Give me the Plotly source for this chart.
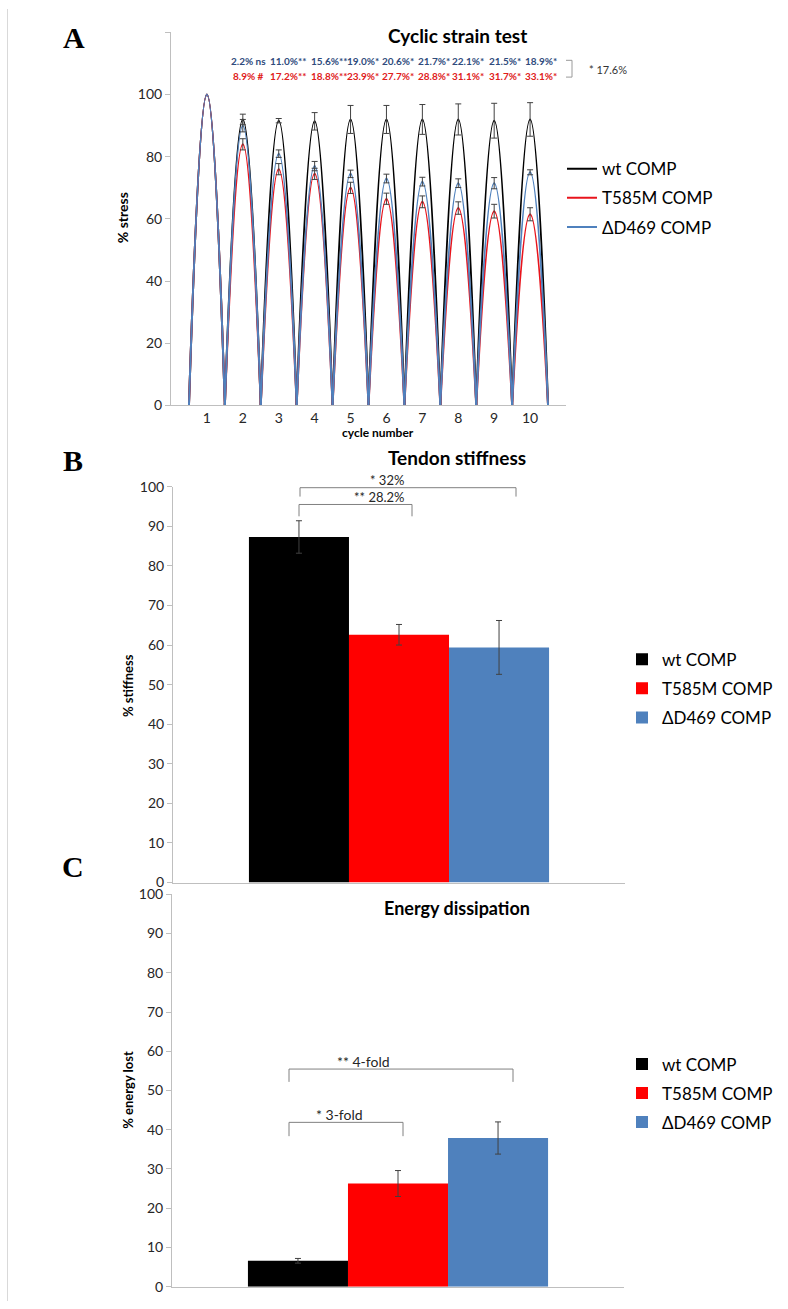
import plotly.graph_objects as go

PAGE_W, PAGE_H = 788, 1309
FW, FH = PAGE_W, PAGE_H
def X(px): return px / FW
def Y(py): return 1 - py / FH

# ---------------- data ----------------
cycles = [1, 2, 3, 4, 5, 6, 7, 8, 9, 10]
series_names = ["wt COMP", "T585M COMP", "\u0394D469 COMP"]
line_colors = ["#000000", "#E8141C", "#4F81BD"]
bar_colors = ["#000000", "#FF0000", "#4F81BD"]

peak_wt = [100, 92, 91.6, 91.4, 92, 92, 92, 92, 91.6, 92]
peak_t585m = [100, 84, 76, 74.5, 70, 66.5, 65.5, 63.5, 62.5, 61.5]
peak_d469 = [100, 90, 81, 77, 74.5, 73, 72, 71.5, 71.5, 75]
err_wt = [0, 1.7, 0.7, 2.8, 4.5, 4.5, 4.8, 5.0, 5.6, 5.4]
err_t585m = [0, 1.8, 1.8, 1.8, 1.8, 1.8, 1.9, 2.0, 2.2, 2.1]
err_d469 = [0, 2.0, 1.2, 1.5, 1.2, 1.4, 1.4, 1.4, 1.8, 0.8]

blue_pct = ["2.2% ns", "11.0%**", "15.6%**", "19.0%*", "20.6%*", "21.7%*", "22.1%*", "21.5%*", "18.9%*"]
red_pct = ["8.9% #", "17.2%**", "18.8%**", "23.9%*", "27.7%*", "28.8%*", "31.1%*", "31.7%*", "33.1%*"]
pct_centers_px = [248, 288, 329, 363, 398, 434, 468, 505, 541]

stiff_vals = [87.3, 62.6, 59.4]
stiff_err = [4.1, 2.6, 6.8]
energy_vals = [6.6, 26.3, 37.9]
energy_err = [0.6, 3.3, 4.1]

fig = go.Figure()

# ---------------- panel A : cyclic curves ----------------
peaks = [peak_wt, peak_t585m, peak_d469]
errs = [err_wt, err_t585m, err_d469]
for i, (name, col, pk) in enumerate(zip(series_names, line_colors, peaks)):
    xs, ys = [], []
    for c, p in zip(cycles, pk):
        xs += [c - 0.5, c, c + 0.5, None]
        ys += [0, p, 0, None]
    fig.add_trace(go.Scatter(x=xs, y=ys, mode="lines", name=name, legendgroup=f"a{i}",
                             line=dict(color=col, width=2, shape="spline", smoothing=1.3),
                             connectgaps=False, xaxis="x", yaxis="y", legend="legend"))
for name, col, pk, er in zip(series_names, line_colors, peaks, errs):
    fig.add_trace(go.Scatter(x=cycles[1:], y=pk[1:], mode="markers", showlegend=False,
                             marker=dict(size=1, color="rgba(0,0,0,0)"),
                             error_y=dict(type="data", array=er[1:], color="#404040",
                                          thickness=1, width=3),
                             xaxis="x", yaxis="y", hoverinfo="skip"))

# ---------------- panel B : stiffness ----------------
for i, (name, col, v, e) in enumerate(zip(series_names, bar_colors, stiff_vals, stiff_err)):
    fig.add_trace(go.Bar(x=["s"], y=[v], name=name, legendgroup=f"b{i}",
                         marker=dict(color=col, line=dict(width=0)),
                         error_y=dict(type="data", array=[e], color="#404040", thickness=1, width=3),
                         xaxis="x2", yaxis="y2", legend="legend2"))

# ---------------- panel C : energy ----------------
for i, (name, col, v, e) in enumerate(zip(series_names, bar_colors, energy_vals, energy_err)):
    fig.add_trace(go.Bar(x=["e"], y=[v], name=name, legendgroup=f"c{i}",
                         marker=dict(color=col, line=dict(width=0)),
                         error_y=dict(type="data", array=[e], color="#404040", thickness=1, width=3),
                         xaxis="x3", yaxis="y3", legend="legend3"))

axis_col = "#BFBFBF"
tick_font = dict(family="Lato", size=14, color="#262626")
common_y = dict(showline=True, linecolor=axis_col, linewidth=1, ticks="outside", ticklen=5,
                tickcolor=axis_col, showgrid=False, zeroline=False, tickfont=tick_font)
common_x = dict(showline=True, linecolor=axis_col, linewidth=1, showgrid=False, zeroline=False,
                tickfont=tick_font)
leg_common = dict(xanchor="left", yanchor="top", font=dict(family="Lato", size=17, color="#000000"),
                  bgcolor="rgba(0,0,0,0)", itemwidth=30, tracegroupgap=4)

fig.update_layout(
    width=FW, height=FH, margin=dict(l=0, r=0, t=0, b=0),
    paper_bgcolor="white", plot_bgcolor="rgba(0,0,0,0)",
    font=dict(family="Lato", color="#000000"),
    barmode="group", bargap=0.336, bargroupgap=0,
    xaxis=dict(domain=[X(171), X(566)], range=[0, 11], tickvals=cycles, ticks="", anchor="y", **common_x),
    yaxis=dict(domain=[Y(401.7), Y(23.7)], range=[0, 120], tickvals=[0, 20, 40, 60, 80, 100, 120],
               ticktext=["0", "20", "40", "60", "80", "100", ""], anchor="x", **common_y),
    xaxis2=dict(domain=[X(173), X(625)], showticklabels=False, ticks="", anchor="y2", **common_x),
    yaxis2=dict(domain=[Y(885), Y(484)], range=[0, 100], dtick=10, anchor="x2", **common_y),
    xaxis3=dict(domain=[X(172), X(624)], showticklabels=False, ticks="", anchor="y3", **common_x),
    yaxis3=dict(domain=[Y(1294.5), Y(897)], range=[0, 100], dtick=10, anchor="x3", **common_y),
    legend=dict(x=X(562), y=Y(144), **leg_common),
    legend2=dict(x=X(622), y=Y(641), **leg_common),
    legend3=dict(x=X(622), y=Y(1051), **leg_common),
    showlegend=True,
)

ann = []
def txt(px, py, s, size=14, bold=False, color="#000000", family="Lato", angle=0, xanchor="center"):
    ann.append(dict(x=X(px), y=Y(py), xref="paper", yref="paper", text=(f"<b>{s}</b>" if bold else s),
                    showarrow=False, font=dict(family=family, size=size, color=color),
                    textangle=angle, xanchor=xanchor, yanchor="middle"))

# panel letters
txt(74, 29, "A", size=30, bold=True, family="Liberation Serif")
txt(73, 457, "B", size=30, bold=True, family="Liberation Serif")
txt(73, 869, "C", size=30, bold=True, family="Liberation Serif")

# titles
txt(457, 27, "Cyclic strain test", size=19, bold=True)
txt(457, 454, "Tendon stiffness", size=19, bold=True)
txt(457, 911, "Energy dissipation", size=18, bold=True)

# axis titles
txt(122, 212, "% stress", size=14, bold=True, angle=-90)
txt(128, 685, "% stiffness", size=13, bold=True, angle=-90)
txt(128, 1095, "% energy lost", size=13, bold=True, angle=-90)
txt(378, 429, "cycle number", size=12, bold=True)

# percentage rows in panel A
for s, cx in zip(blue_pct, pct_centers_px):
    txt(cx, 53, s, size=10, bold=True, color="#2F4B7C")
for s, cx in zip(red_pct, pct_centers_px):
    txt(cx, 67.5, s, size=10, bold=True, color="#E0201B")
txt(608, 61, "* 17.6%", size=11, color="#333333")

# bracket labels
txt(387, 477.5, "* 32%", size=13, color="#262626")
txt(379, 494, "** 28.2%", size=13, color="#262626")
txt(363, 1066, "** 4-fold", size=14, color="#262626")
txt(339, 1120, "* 3-fold", size=14, color="#262626")

fig.update_layout(annotations=ann)

shapes = []
def path(points, color="#808080"):
    d = "M " + " L ".join(f"{X(px)},{Y(py)}" for px, py in points)
    shapes.append(dict(type="path", path=d, xref="paper", yref="paper",
                       line=dict(color=color, width=1)))

# bracket in panel A
path([(566, 52), (572, 52), (572, 69), (566, 69)], color="#9A9A9A")
# brackets in panel B
path([(300, 494), (300, 485), (516, 485), (516, 494)])
path([(299, 514), (299, 502), (412, 502), (412, 514)])
# brackets in panel C
path([(289, 1087), (289, 1074), (513, 1074), (513, 1087)])
path([(289, 1142), (289, 1128), (403, 1128), (403, 1142)])
# faint left border
path([(7.5, 0), (7.5, 1309)], color="#D9D9D9")

fig.update_layout(shapes=shapes)

fig.write_html("out.html", config={"displayModeBar": False},
               post_script="document.body.style.margin='0';document.body.style.overflow='hidden';")
